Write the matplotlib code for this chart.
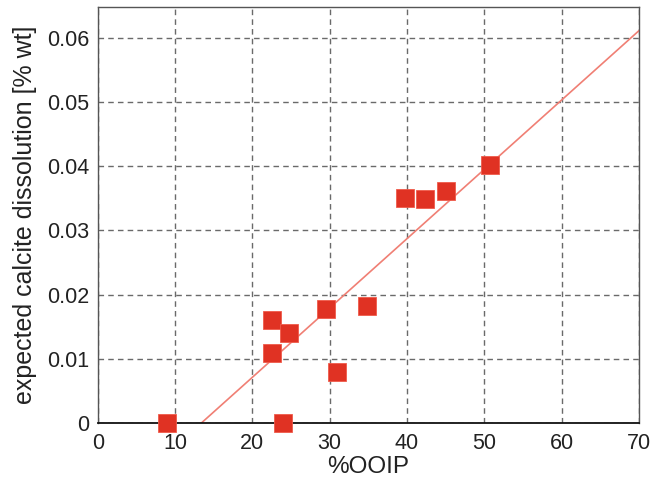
import numpy as np
import matplotlib.pyplot as plt
from matplotlib.ticker import FuncFormatter

# %OOIP vs expected calcite dissolution
ooip = [9.0, 23.9, 22.5, 22.5, 24.7, 29.5, 30.9, 34.8, 39.8, 42.3, 45.1, 50.7]
calcite = [0.0, 0.0, 0.0161, 0.0109, 0.0140, 0.0178, 0.0079, 0.0182,
           0.0350, 0.0349, 0.0362, 0.0402]

# trend line
fit_x0 = 13.4
fit_slope = 0.00108

xticks = [0, 10, 20, 30, 40, 50, 60, 70]
yticks = [0, 0.01, 0.02, 0.03, 0.04, 0.05, 0.06]

plt.rcParams['font.family'] = ['Liberation Sans', 'DejaVu Sans']

fig = plt.figure(figsize=(6.52, 4.91), dpi=100)
ax = fig.add_axes([0.150, 0.1385, 0.830, 0.847])

xl = np.array([fit_x0, 70])
ax.plot(xl, fit_slope * (xl - fit_x0), color='#f07f74', lw=1.2, zorder=2)
ax.plot(ooip, calcite, 's', color='#e03223', markersize=13, markeredgecolor='#f05a4a',
        markeredgewidth=0.6, zorder=3, clip_on=False)

ax.set_xlim(0, 70)
ax.set_ylim(0, 0.0648)
ax.set_xticks(xticks)
ax.set_yticks(yticks)
ax.yaxis.set_major_formatter(FuncFormatter(lambda v, p: '0' if v == 0 else f'{v:.2f}'))
ax.grid(True, linestyle=(0, (4, 3)), color='#6a6a6a', lw=1.0)
ax.set_axisbelow(True)
ax.tick_params(length=0, labelsize=15.5, colors='#222222')
ax.tick_params(axis='x', pad=7)
ax.tick_params(axis='y', pad=6)

for s in ['left', 'right', 'top']:
    ax.spines[s].set_color('#555555')
    ax.spines[s].set_linewidth(1.0)
ax.spines['bottom'].set_color('#111111')
ax.spines['bottom'].set_linewidth(1.3)

ax.set_xlabel('%OOIP', fontsize=17.5, labelpad=2, color='#222222')
ax.set_ylabel('expected calcite dissolution [% wt]', fontsize=18, labelpad=7, color='#222222')

fig.savefig('out.png', dpi=100)
